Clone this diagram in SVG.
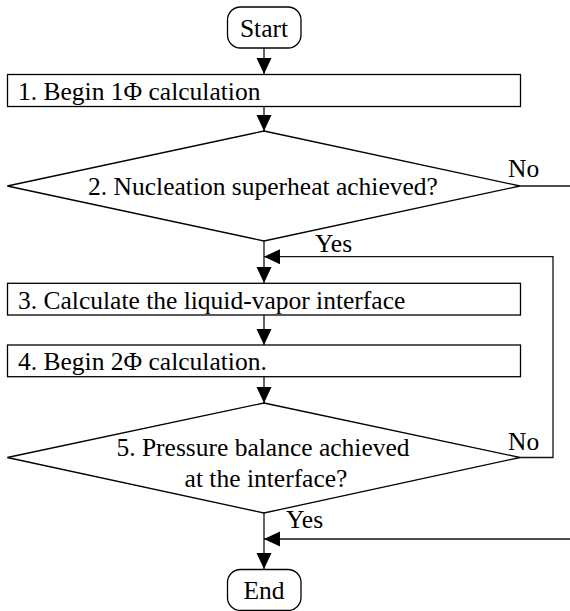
<svg xmlns="http://www.w3.org/2000/svg" width="570" height="611" viewBox="0 0 570 611">
<style>
.shape{fill:#fff;stroke:#000;stroke-width:1.3}
.line{fill:none;stroke:#111;stroke-width:1.3}
text{font-family:"Liberation Serif","Times New Roman",serif;font-size:25.5px;fill:#000}
.c{text-anchor:middle}
</style>
<defs>
<marker id="arr" markerUnits="userSpaceOnUse" markerWidth="16" markerHeight="16" viewBox="0 0 16 16" refX="16" refY="8" orient="auto">
<path d="M0,0.5 L16,8 L0,15.5 Z" fill="#000"/>
</marker>
</defs>
<g id="connectors">
<line class="line" x1="264" y1="48" x2="264" y2="74" marker-end="url(#arr)"/>
<line class="line" x1="264" y1="106.7" x2="264" y2="131" marker-end="url(#arr)"/>
<line class="line" x1="264" y1="241" x2="264" y2="283" marker-end="url(#arr)"/>
<line class="line" x1="520" y1="186" x2="570" y2="186"/>
<polyline class="line" points="520,457.5 553,457.5 553,256.7 264,256.7" marker-end="url(#arr)"/>
<line class="line" x1="264" y1="315" x2="264" y2="345" marker-end="url(#arr)"/>
<line class="line" x1="264" y1="376.7" x2="264" y2="403" marker-end="url(#arr)"/>
<line class="line" x1="264" y1="513" x2="264" y2="569" marker-end="url(#arr)"/>
<line class="line" x1="570" y1="539" x2="264" y2="539" marker-end="url(#arr)"/>
<text x="508" y="177">No</text>
<text x="315" y="251.7">Yes</text>
<text x="508" y="450">No</text>
<text x="286" y="527.7">Yes</text>
</g>
<g id="start">
<rect class="shape" x="227.5" y="7" width="73.5" height="41" rx="13" ry="13"/>
<text class="c" x="264" y="36.7">Start</text>
</g>
<g id="step1">
<rect class="shape" x="7.5" y="74.5" width="513" height="32"/>
<text x="18" y="100">1. Begin 1Φ calculation</text>
</g>
<g id="step2">
<polygon class="shape" points="264,131 520,186 264,241 7.3,186"/>
<text class="c" x="263" y="195">2. Nucleation superheat achieved?</text>
</g>
<g id="step3">
<rect class="shape" x="7.5" y="283.3" width="513" height="31.7"/>
<text x="18" y="309">3. Calculate the liquid-vapor interface</text>
</g>
<g id="step4">
<rect class="shape" x="7.5" y="345" width="513" height="31.7"/>
<text x="18" y="370">4. Begin 2Φ calculation.</text>
</g>
<g id="step5">
<polygon class="shape" points="264,403 520,457.5 264,513 7.3,457.5"/>
<text class="c" x="263" y="456">5. Pressure balance achieved</text>
<text class="c" x="266" y="487">at the interface?</text>
</g>
<g id="end">
<rect class="shape" x="227.5" y="569.5" width="73.5" height="41" rx="13" ry="13"/>
<text class="c" x="264" y="599.3">End</text>
</g>
</svg>
